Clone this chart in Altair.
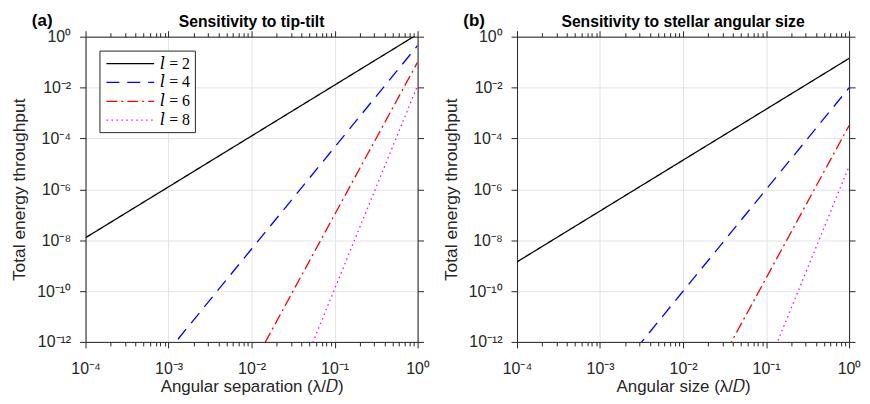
import altair as alt
import pandas as pd
import math

# ---------------- data ----------------
x_pts = [1e-4, 1e-3, 1e-2, 1e-1, 1.0]
series_labels = ["𝑙 = 2", "𝑙 = 4", "𝑙 = 6", "𝑙 = 8"]

# (a) Sensitivity to tip-tilt
a_l2 = [1.25e-8, 1.25e-6, 1.25e-4, 1.25e-2, 1.25]
a_l4 = [4.5e-17, 4.5e-13, 4.5e-9, 4.5e-5, 0.45]
a_l6 = [1.0e-25, 1.0e-19, 1.0e-13, 1.0e-7, 0.10]
a_l8 = [1.2e-34, 1.2e-26, 1.2e-18, 1.2e-10, 0.012]

# (b) Sensitivity to stellar angular size
b_l2 = [1.4e-9, 1.4e-7, 1.4e-5, 1.4e-3, 0.14]
b_l4 = [9.8e-19, 9.8e-15, 9.8e-11, 9.8e-7, 9.8e-3]
b_l6 = [3.2e-28, 3.2e-22, 3.2e-16, 3.2e-10, 3.2e-4]
b_l8 = [8.0e-38, 8.0e-30, 8.0e-22, 8.0e-14, 8.0e-6]

x_major = [1e-4, 1e-3, 1e-2, 1e-1, 1.0]
x_major_labels = ["10⁻⁴", "10⁻³", "10⁻²", "10⁻¹", "10⁰"]
x_minor = [m * d for d in [1e-4, 1e-3, 1e-2, 1e-1] for m in range(2, 10)]
y_major = [1e-12, 1e-10, 1e-8, 1e-6, 1e-4, 1e-2, 1.0]
y_major_labels = ["10⁻¹²", "10⁻¹⁰", "10⁻⁸", "10⁻⁶", "10⁻⁴", "10⁻²", "10⁰"]

colors = ["#000000", "#0000ff", "#ff0000", "#ff00ff"]
dashes = [[1, 0], [13, 8], [11, 4, 2, 4], [1.5, 3.5]]

W, H = 334, 307
AX = "#262626"
FONT = "Liberation Sans"


def label_expr(vals, labs):
    parts = []
    for v, s in zip(vals, labs):
        e = round(math.log10(v))
        parts.append(f"abs(log(datum.value)/LN10 - ({e})) < 0.01 ? '{s}' : ")
    return "".join(parts) + "''"


def build_df(series):
    rows = []
    for lab, ys in zip(series_labels, series):
        for x, y in zip(x_pts, ys):
            rows.append({"x": x, "y": y, "l": lab})
    return pd.DataFrame(rows)


def panel(series, title, tag, xtitle):
    df = build_df(series)
    xs = alt.Scale(type="log", domain=[1e-4, 1.0], nice=False)
    ys = alt.Scale(type="log", domain=[1e-12, 1.0], nice=False)
    common_axis = dict(domainColor=AX, tickColor=AX, labelColor=AX, titleColor=AX,
                       labelFont=FONT, titleFont=FONT, domainWidth=1, tickWidth=1,
                       titleFontWeight="normal")
    leg = alt.Legend(title=None, orient="top-left", offset=14,
                     symbolType="M-0.75,0H5.25", symbolSize=256,
                     symbolStrokeWidth=1.3, labelFont="Liberation Serif, DejaVu Serif",
                     labelFontSize=16, labelColor="black", strokeColor=AX, fillColor="white",
                     padding=4, rowPadding=2, labelOffset=39, cornerRadius=0)

    lines = alt.Chart(df).mark_line(clip=True, strokeWidth=1.3).encode(
        x=alt.X("x:Q", scale=xs, title=xtitle,
                axis=alt.Axis(orient="bottom", values=x_major, tickSize=6,
                              labelExpr=label_expr(x_major, x_major_labels),
                              labelFontSize=16, labelPadding=13, titleFontSize=17,
                              titlePadding=2, grid=True, gridColor="#e3e3e3",
                              labelFlush=False, labelOverlap=False, **common_axis)),
        y=alt.Y("y:Q", scale=ys, title="Total energy throughput",
                axis=alt.Axis(orient="left", values=y_major, tickSize=6,
                              labelExpr=label_expr(y_major, y_major_labels),
                              labelFontSize=16, labelPadding=9, titleFontSize=17.5,
                              titlePadding=8, grid=True, gridColor="#e3e3e3",
                              labelFlush=False, labelOverlap=False, **common_axis)),
        color=alt.Color("l:N", scale=alt.Scale(domain=series_labels, range=colors), legend=leg),
        strokeDash=alt.StrokeDash("l:N", scale=alt.Scale(domain=series_labels, range=dashes), legend=leg),
    )

    mirror = alt.Chart(df).mark_line(opacity=0).encode(
        x=alt.X("x:Q", scale=xs, axis=alt.Axis(orient="top", values=x_major, tickSize=6,
                                               labels=False, title=None, grid=False, **common_axis)),
        y=alt.Y("y:Q", scale=ys, axis=alt.Axis(orient="right", values=y_major, tickSize=6,
                                               labels=False, title=None, grid=False, **common_axis)),
    )

    minor_df = pd.DataFrame({"x": x_minor, "y": [1e-6] * len(x_minor)})
    minor_b = alt.Chart(minor_df).mark_point(opacity=0).encode(
        x=alt.X("x:Q", scale=xs, axis=alt.Axis(orient="bottom", values=x_minor, tickSize=4,
                                               labels=False, title=None, grid=False, domain=False,
                                               tickColor=AX, tickWidth=1)),
        y=alt.Y("y:Q", scale=ys, axis=None),
    )
    minor_t = alt.Chart(minor_df).mark_point(opacity=0).encode(
        x=alt.X("x:Q", scale=xs, axis=alt.Axis(orient="top", values=x_minor, tickSize=4,
                                               labels=False, title=None, grid=False, domain=False,
                                               tickColor=AX, tickWidth=1)),
        y=alt.Y("y:Q", scale=ys, axis=None),
    )

    tag_layer = alt.Chart(pd.DataFrame({"t": [tag]})).mark_text(
        align="left", baseline="top", font=FONT, fontSize=17, fontWeight="bold", color="black"
    ).encode(text="t:N", x=alt.value(-54), y=alt.value(-24))

    title_layer = alt.Chart(pd.DataFrame({"t": [title]})).mark_text(
        align="center", baseline="alphabetic", font=FONT, fontSize=15.8, fontWeight="bold",
        color="black"
    ).encode(text="t:N", x=alt.value(W / 2), y=alt.value(-10))

    return alt.layer(lines, mirror, minor_b, minor_t, tag_layer, title_layer).properties(
        width=W, height=H,
    )


left = panel([a_l2, a_l4, a_l6, a_l8], "Sensitivity to tip-tilt", "(a)",
             "Angular separation (λ/𝐷)")
right = panel([b_l2, b_l4, b_l6, b_l8], "Sensitivity to stellar angular size", "(b)",
              "Angular size (λ/𝐷)")

chart = alt.hconcat(left, right, spacing=11).properties(
    padding={"left": 2, "top": 0, "right": 0, "bottom": 0}
).configure_view(stroke=None).configure(background="white")

chart.save("out.html", embed_options={"renderer": "svg", "actions": False})
